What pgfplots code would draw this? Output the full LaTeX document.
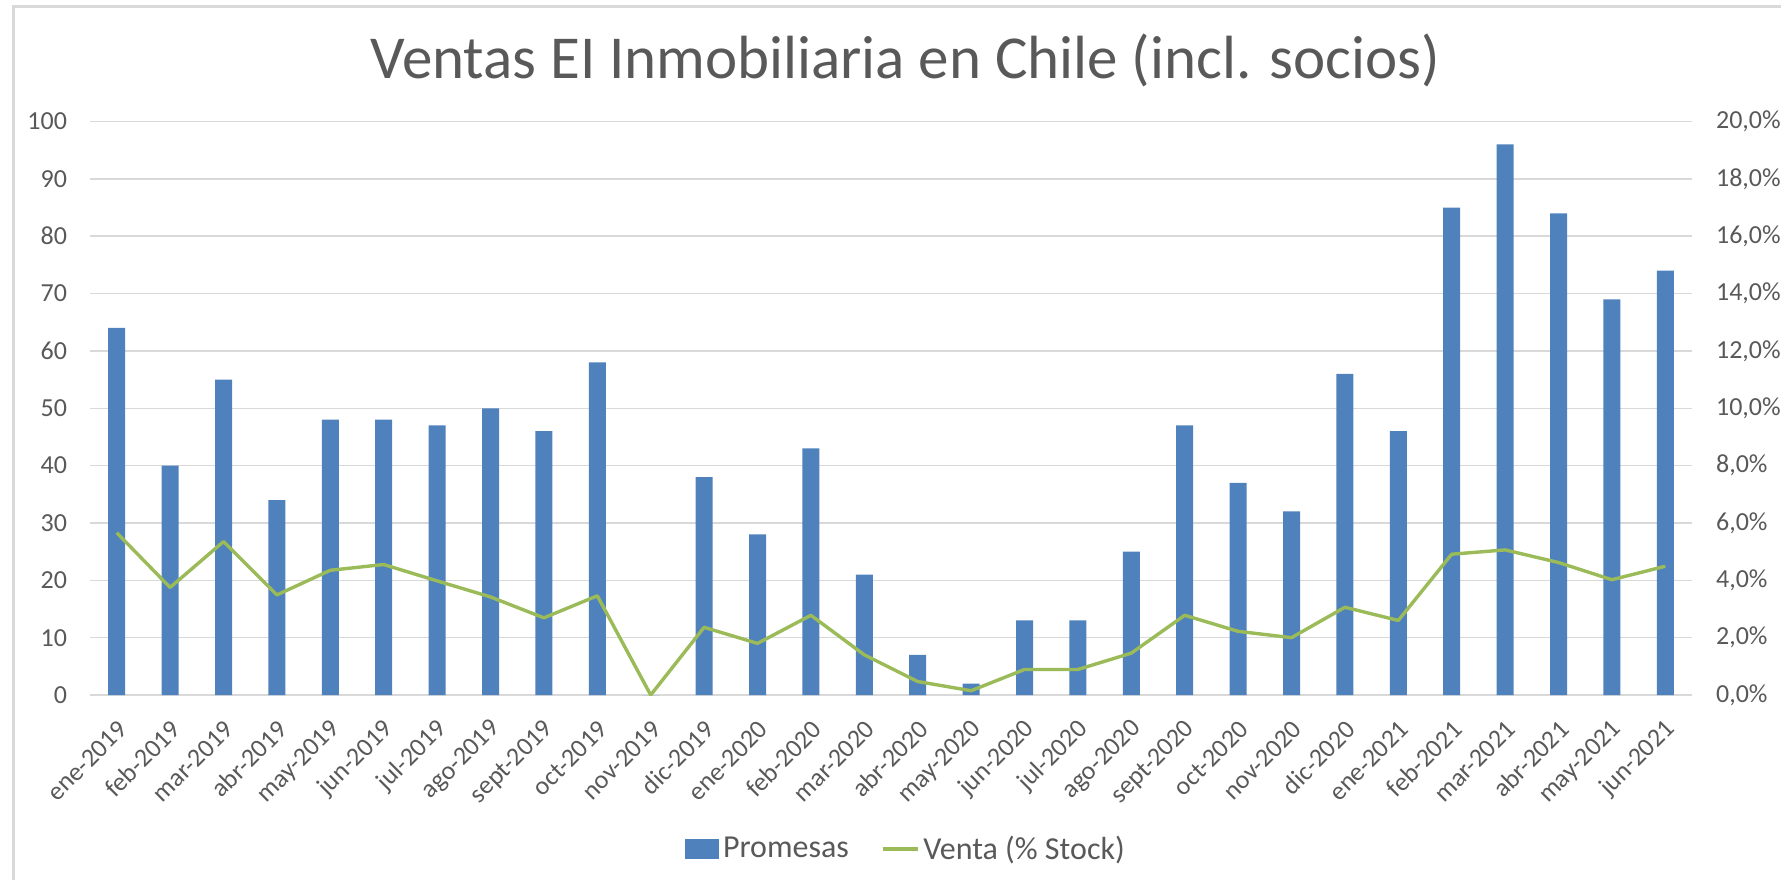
\documentclass[border=0pt]{standalone}
\usepackage{fontspec}
\setmainfont{Carlito}
\usepackage{pgfplots}
\usepackage{pgfplotstable}
\pgfplotsset{compat=1.18}
\definecolor{txt}{HTML}{595959}
\definecolor{gridc}{HTML}{D9D9D9}
\definecolor{barc}{HTML}{4F81BD}
\definecolor{linec}{HTML}{9BBB59}
\pgfplotstableread{
x p v
0 64 5.66
1 40 3.75
2 55 5.35
3 34 3.49
4 48 4.35
5 48 4.55
6 47 3.98
7 50 3.42
8 46 2.69
9 58 3.46
10 0 0.00
11 38 2.36
12 28 1.80
13 43 2.78
14 21 1.40
15 7 0.47
16 2 0.15
17 13 0.89
18 13 0.89
19 25 1.46
20 47 2.78
21 37 2.22
22 32 2.00
23 56 3.06
24 46 2.60
25 85 4.91
26 96 5.06
27 84 4.62
28 69 4.02
29 74 4.49
}\data
\pgfplotsset{common/.style={
  at={(45pt,92pt)}, anchor=south west, scale only axis,
  width=801pt, height=286.75pt,
  xmin=-0.5, xmax=29.5,
  axis line style={draw=none}, major tick length=0pt,
  ticklabel style={text=txt, font=\fontsize{13}{15}\selectfont},
  /pgf/number format/assume math mode=true,
}}
\begin{document}
\begin{tikzpicture}[x=1pt,y=1pt]
\clip (0,0) rectangle (890.5,439.5);
\path[use as bounding box] (0,0) rectangle (890.5,439.5);
\draw[gridc, line width=1.5pt] (6.5,-5) -- (6.5,436) -- (900,436);
\node[anchor=base, text=txt, font=\fontsize{30.5}{36}\selectfont, inner sep=0pt] at (452.75,400) {Ventas EI Inmobiliaria en Chile (incl. socios)};
\begin{axis}[common,
  ymin=0, ymax=100, ytick={0,10,...,100},
  ymajorgrids, grid style={gridc, line width=0.75pt},
  xtick={0,...,29},
  xticklabels={ene-2019,feb-2019,mar-2019,abr-2019,may-2019,jun-2019,jul-2019,ago-2019,sept-2019,oct-2019,nov-2019,dic-2019,ene-2020,feb-2020,mar-2020,abr-2020,may-2020,jun-2020,jul-2020,ago-2020,sept-2020,oct-2020,nov-2020,dic-2020,ene-2021,feb-2021,mar-2021,abr-2021,may-2021,jun-2021},
  xticklabel style={xshift=3pt, yshift=-15pt, rotate=45, anchor=east, inner sep=0pt},
  yticklabel style={xshift=-8pt},
]
\addplot[ybar, bar width=8.5pt, fill=barc, draw=none] table[x=x,y=p]{\data};
\end{axis}
\begin{axis}[common,
  ymin=0, ymax=20, ytick={0,2,...,20},
  yticklabels={{0,0\%},{2,0\%},{4,0\%},{6,0\%},{8,0\%},{10,0\%},{12,0\%},{14,0\%},{16,0\%},{18,0\%},{20,0\%}},
  yticklabel pos=right,
  yticklabel style={xshift=8.5pt},
  hide x axis,
  legend columns=2,
  legend style={at={(0.51,-0.2685)}, anchor=center, draw=none, fill=none,
    font=\fontsize{16}{19}\selectfont, text=txt,
    /tikz/every even column/.append style={column sep=14pt}},
]
\addlegendimage{legend image code/.code={\fill[barc] (0pt,-4.75pt) rectangle (16.5pt,4.75pt);}}
\addlegendentry{Promesas}
\addplot[linec, line width=1.7pt, line join=round, mark=none,
  legend image code/.code={\draw[linec, line width=1.7pt] (0pt,0pt) -- (17.5pt,0pt);}]
  table[x=x,y=v]{\data};
\addlegendentry{Venta (\% Stock)}
\end{axis}
\end{tikzpicture}
\end{document}
